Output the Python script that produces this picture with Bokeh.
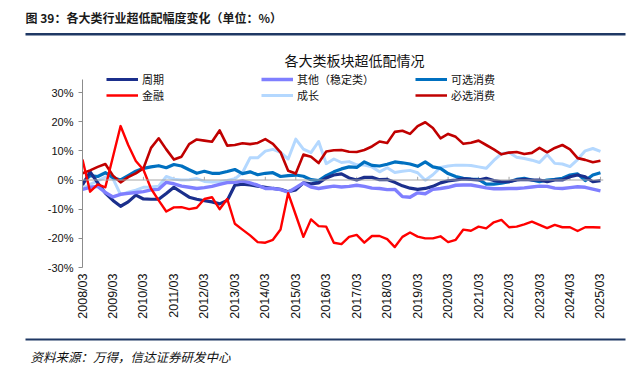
import math
from bokeh.plotting import figure
from bokeh.layouts import column
from bokeh.models import (Range1d, FixedTicker, Label, BoxAnnotation, Legend, LegendItem,
                          Span, PrintfTickFormatter, ColumnDataSource)
from bokeh.embed import file_html
from bokeh.resources import INLINE

# ---------------- data (quarterly, 2008/03 .. 2025/03) ----------------
years = list(range(2008, 2026))
tick_labels = [f"{y}/03" for y in years]
quarters = [f"{2008 + i // 4}/{['03', '06', '09', '12'][i % 4]}" for i in range(69)]

zhouqi = [-1.7, 2.8, -1.0, -4.5, -7.0, -9.0, -7.5, -5.2, -6.5, -6.6, -6.6, -4.6, -2.5, -4.2, -5.9, -6.6, -7.1, -7.5,
          -8.2, -7.0, -1.8, -1.4, -1.7, -2.1, -2.5, -2.9, -3.2, -4.0, -3.4, -1.0, -1.3, -1.0, 0.7, 1.7,
          2.1, 0.7, 0.0, 0.9, 0.9, 0.1, 0.2, -0.8, -2.0, -2.8, -3.2, -2.9, -2.2, -1.0, -0.3, 0.0, 0.4,
          0.2, 0.0, 0.6, -0.2, -0.6, -0.6, 0.0, 0.2, 0.0, 0.0, -0.6, 0.0, 0.0, 1.1, 1.7, 1.1, -0.6, -0.2]

jinrong = [7.0, -4.0, -1.5, -2.5, 8.0, 18.5, 12.0, 6.5, 3.5, -3.0, -7.0, -10.8, -9.4, -9.3, -10.0, -9.5, -6.5, -5.9,
           -10.0, -6.5, -15.0, -17.0, -19.0, -21.3, -21.5, -20.5, -17.0, -4.5, -12.0, -19.5, -13.5, -15.8, -16.0, -21.5,
           -22.0, -19.5, -18.8, -21.5, -19.2, -19.2, -20.3, -23.0, -19.5, -18.0, -19.4, -20.0, -20.0, -19.3, -21.3, -20.5, -17.0,
           -17.4, -16.0, -16.6, -14.5, -13.7, -16.2, -16.0, -15.2, -14.3, -15.4, -16.5, -15.4, -16.2, -16.2, -17.5, -16.2, -16.2, -16.3]

qita = [-3.2, -2.5, -2.2, -4.3, -5.8, -4.9, -4.6, -4.3, -4.0, -3.4, -3.2, -0.8, -1.3, -2.1, -2.5, -2.9, -2.6, -2.2,
        -1.5, -0.9, -0.8, -0.3, -1.0, -1.8, -2.9, -2.9, -3.3, -4.2, -2.6, -1.0, -2.4, -2.9, -2.5, -2.1,
        -2.4, -2.2, -1.8, -2.2, -2.8, -2.9, -3.3, -3.2, -5.7, -5.9, -4.4, -4.7, -3.2, -2.9, -2.5, -1.8, -1.7,
        -1.7, -2.2, -2.7, -3.0, -3.0, -2.9, -2.9, -2.7, -2.4, -2.1, -2.2, -2.8, -2.9, -2.6, -2.3, -2.5, -3.1, -3.7]

chengzhang = [-2.9, -1.5, -0.3, 1.0, 0.5, -5.0, -4.2, -3.5, -2.5, -2.4, -2.1, 1.2, 0.3, 0.0, 0.1, 0.5, -0.5, -0.7,
              -0.6, -0.2, 0.4, 2.5, 7.6, 7.6, 9.9, 10.5, 9.5, 7.2, 14.0, 10.6, 9.4, 13.2, 5.6, 7.2,
              6.0, 6.3, 5.2, 5.1, 4.5, 2.8, 4.2, 2.6, 3.0, 3.3, 2.5, -0.1, 1.8, 4.3, 4.8, 5.1, 5.1,
              5.0, 4.5, 4.0, 6.7, 9.0, 9.4, 7.8, 7.4, 6.8, 6.0, 8.7, 5.7, 5.5, 4.6, 7.0, 10.0, 10.8, 9.8]

kexuan = [-1.0, 1.5, 1.2, 2.5, 0.8, 0.0, 1.5, 3.0, 4.0, 4.5, 4.9, 4.2, 5.3, 4.8, 3.5, 2.3, 3.0, 2.3,
          2.3, 2.9, 3.6, 2.2, 2.8, 1.8, 2.3, 2.5, 1.2, 1.5, 1.7, 1.3, 0.1, -0.2, 1.5, 2.8,
          3.8, 4.5, 4.3, 6.2, 5.0, 4.8, 5.4, 6.2, 5.9, 5.5, 4.7, 6.2, 4.5, 4.0, 2.2, 1.2, 0.6,
          0.3, 0.2, -1.4, -1.4, -1.1, -0.6, 0.2, 0.6, 0.0, -0.6, 0.0, 0.2, 0.6, 1.7, 2.1, -0.2, 1.7, 2.5]

bixuan = [2.3, 3.3, 4.5, 5.5, 1.5, -0.8, 1.0, 2.3, 4.0, 11.0, 14.3, 10.5, 7.0, 8.0, 12.3, 13.9, 13.5, 13.1,
          17.0, 11.8, 12.0, 12.6, 12.3, 12.7, 14.0, 12.4, 9.5, 3.2, 2.2, 8.7, 8.0, 5.8, 9.8, 10.2,
          10.3, 9.7, 9.6, 10.3, 11.5, 13.2, 12.7, 16.5, 16.9, 15.8, 18.5, 19.8, 17.8, 14.3, 15.8, 14.8, 12.4,
          12.8, 13.5, 12.0, 10.5, 8.8, 9.4, 9.6, 8.9, 9.3, 11.0, 9.5, 11.0, 12.0, 10.5, 7.5, 6.9, 6.1, 6.6]

series_names = {"zhouqi": "周期", "jinrong": "金融", "qita": "其他（稳定类）", "chengzhang": "成长",
                "kexuan": "可选消费", "bixuan": "必选消费"}
y_ticks = [-30, -20, -10, 0, 10, 20, 30]

W = 642
CJK = "Noto Sans CJK SC"

# ---------------- header ----------------
HH = 70
head = figure(width=W, height=HH, output_backend="svg", toolbar_location=None,
              x_range=Range1d(0, W), y_range=Range1d(HH, 0),
              x_axis_location=None, y_axis_location=None, frame_align=False,
              min_border_left=0, min_border_right=0, min_border_top=0, min_border_bottom=0)
head.grid.visible = False
head.outline_line_color = None
head.add_layout(Label(x=25, y=17, text="图 39：各大类行业超低配幅度变化（单位：%）", text_font=CJK,
                      text_font_style="bold", text_font_size="12px", text_color="#1a1a1a",
                      text_baseline="middle", text_align="left"))
head.add_layout(BoxAnnotation(left=25, right=625, top=32.5, bottom=35, fill_color="#1F3864",
                              fill_alpha=1, line_alpha=0))
head.add_layout(Label(x=354, y=59, text="各大类板块超低配情况", text_font=CJK,
                      text_font_size="14px", text_color="#111111",
                      text_baseline="middle", text_align="center"))

# ---------------- main chart ----------------
MH = 263          # canvas rows 70 .. 333
FRAME_H = 197     # frame rows 70 .. 267
scale = 175.0 / 60.0
y_top = -30 + FRAME_H / scale
p = figure(width=W, height=MH, output_backend="svg", toolbar_location=None,
           x_range=Range1d(0, 68.4), y_range=Range1d(-30, y_top), frame_align=False,
           min_border_left=82, min_border_right=W - 603, min_border_top=0,
           min_border_bottom=MH - FRAME_H)
p.outline_line_color = None
p.xgrid.visible = False
p.ygrid.visible = False

x = list(range(len(quarters)))
src = ColumnDataSource(dict(x=x, q=quarters, zhouqi=zhouqi, jinrong=jinrong, qita=qita,
                            chengzhang=chengzhang, kexuan=kexuan, bixuan=bixuan))

p.add_layout(Span(location=0, dimension="width", line_color="#A6A6A6", line_width=1))
year_idx = [4 * i for i in range(len(years))]
p.segment(x0=year_idx, y0=[0] * len(year_idx), x1=year_idx, y1=[1.1] * len(year_idx),
          line_color="#A6A6A6", line_width=1)

styles = {
    "zhouqi": ("#1B2F8C", 3.2),
    "qita": ("#7F7FFF", 3.4),
    "kexuan": ("#0070C0", 3.2),
    "jinrong": ("#FF0000", 2.4),
    "chengzhang": ("#B4D8FF", 3.0),
    "bixuan": ("#C00000", 2.6),
}
order = ["chengzhang", "kexuan", "zhouqi", "qita", "bixuan", "jinrong"]
rends = {}
for key in order:
    c, w = styles[key]
    rends[key] = p.line("x", key, source=src, line_color=c, line_width=w, line_join="round")

p.yaxis.ticker = FixedTicker(ticks=y_ticks)
p.yaxis.bounds = (-30, 34.5)
p.yaxis.formatter = PrintfTickFormatter(format="%d%%")
p.yaxis.axis_line_color = "#8C8C8C"
p.yaxis.major_tick_line_color = "#8C8C8C"
p.yaxis.major_tick_out = 4
p.yaxis.major_tick_in = 0
p.yaxis.minor_tick_line_color = None
p.yaxis.major_label_standoff = 5
p.yaxis.major_label_text_font = "Liberation Sans"
p.yaxis.major_label_text_font_size = "11px"
p.yaxis.major_label_text_color = "#111111"

p.xaxis.ticker = FixedTicker(ticks=year_idx)
p.xaxis.major_label_overrides = {k: lab for k, lab in zip(year_idx, tick_labels)}
p.xaxis.major_label_orientation = math.pi / 2
p.xaxis.axis_line_color = None
p.xaxis.major_tick_line_color = None
p.xaxis.minor_tick_line_color = None
p.xaxis.major_tick_out = 0
p.xaxis.major_tick_in = 0
p.xaxis.major_label_standoff = 6
p.xaxis.major_label_text_font = "Liberation Sans"
p.xaxis.major_label_text_font_size = "12.5px"
p.xaxis.major_label_text_color = "#111111"

# legend: one single-item legend per entry, in a 3 x 2 grid
ROW_H = 16
legend_pos = {"zhouqi": (106, 78.5), "jinrong": (106, 94.5),
              "qita": (261, 78.5), "chengzhang": (261, 94.5),
              "kexuan": (415, 78.5), "bixuan": (415, 94.5)}
for k, (cx, cy) in legend_pos.items():
    lg = Legend(items=[LegendItem(label=series_names[k], renderers=[rends[k]])],
                location=(cx - 82, FRAME_H - (cy - 70) - ROW_H / 2), orientation="vertical",
                glyph_width=32, glyph_height=12, label_height=12, label_width=10,
                label_standoff=4, spacing=0, padding=0, margin=0,
                label_text_font=CJK, label_text_font_size="11px",
                label_text_color="#111111", label_text_baseline="middle",
                border_line_alpha=0, background_fill_alpha=0)
    p.add_layout(lg)

# ---------------- footer ----------------
FH = 32   # canvas rows 333 .. 365
foot = figure(width=W, height=FH, output_backend="svg", toolbar_location=None,
              x_range=Range1d(0, W), y_range=Range1d(365, 333),
              x_axis_location=None, y_axis_location=None, frame_align=False,
              min_border_left=0, min_border_right=0, min_border_top=0, min_border_bottom=0)
foot.grid.visible = False
foot.outline_line_color = None
foot.add_layout(BoxAnnotation(left=25, right=625, top=338, bottom=340, fill_color="#1F3864",
                              fill_alpha=1, line_alpha=0))
foot.add_layout(Label(x=30, y=356, text="资料来源：万得，信达证券研发中心", text_font=CJK,
                      text_font_style="italic", text_font_size="12.5px", text_color="#111111",
                      text_baseline="middle", text_align="left"))

layout = column(head, p, foot, spacing=0)
open("out.html", "w").write(file_html(layout, INLINE))
